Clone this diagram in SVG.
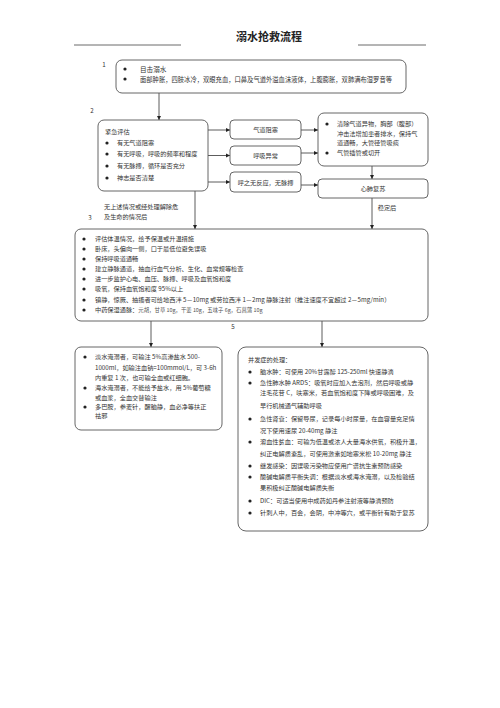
<svg xmlns="http://www.w3.org/2000/svg" width="500" height="708" viewBox="0 0 500 708">
<defs>
<marker id="ah" viewBox="0 0 6 6" refX="6" refY="3" markerWidth="4.5" markerHeight="4.5" orient="auto" markerUnits="userSpaceOnUse">
<path d="M0,0 L6,3 L0,6 Z" fill="#222"/>
</marker>
</defs>
<style>
text{font-family:"Noto Sans CJK SC","Noto Sans",sans-serif;fill:#333;font-size:6.2px}
.box{fill:#fff;stroke:#555;stroke-width:0.9}
.ln{stroke:#333;stroke-width:0.8;fill:none}
.b{fill:#222}
.c{text-anchor:middle}
.title{font-size:11px;font-weight:bold;fill:#222}
.big{font-size:6.6px}
.sm{font-size:5.4px;fill:#555}
</style>
<rect width="500" height="708" fill="#fff"/>
<g id="header">
<text x="269" y="41" class="title c">溺水抢救流程</text>
<line x1="74" y1="45" x2="181" y2="45" stroke="#444" stroke-width="0.8"/>
<line x1="358" y1="45" x2="426" y2="45" stroke="#444" stroke-width="0.8"/>
<text x="104" y="67" class="c">1</text>
<text x="92" y="113" class="c">2</text>
<text x="90" y="220" class="c">3</text>
<text x="233" y="329" class="c">5</text>
</g>
<g id="connectors">
<path class="ln" d="M159,93 V120" marker-end="url(#ah)"/>
<path class="ln" d="M208,130 H230" marker-end="url(#ah)"/>
<path class="ln" d="M208,155.5 H230" marker-end="url(#ah)"/>
<path class="ln" d="M208,182 H230" marker-end="url(#ah)"/>
<path class="ln" d="M301,130 H318" marker-end="url(#ah)"/>
<path class="ln" d="M301,153 H318" marker-end="url(#ah)"/>
<path class="ln" d="M301,185 H318" marker-end="url(#ah)"/>
<path class="ln" d="M372,166 V179" marker-end="url(#ah)"/>
<path class="ln" d="M372,198 V229" marker-end="url(#ah)"/>
<path class="ln" d="M195,191 V229" marker-end="url(#ah)"/>
<path class="ln" d="M151,321 V347" marker-end="url(#ah)"/>
<path class="ln" d="M322,321 V347" marker-end="url(#ah)"/>
<text x="387" y="210" class="c">稳定后</text>
<text x="104" y="209">无上述情况或经处理解除危</text>
<text x="104" y="219">及生命的情况后</text>
</g>
<g id="n1">
<rect class="box" x="116" y="60" width="290" height="33" rx="6"/>
<circle class="b" cx="125" cy="69" r="1.6"/>
<circle class="b" cx="125" cy="79" r="1.6"/>
<text x="140" y="71.5" class="big">目击溺水</text>
<text x="140" y="81.5" class="big" textLength="252" lengthAdjust="spacingAndGlyphs">面部肿胀，四肢冰冷，双眼充血，口鼻及气道外溢血沫液体，上腹膨胀，双肺满布湿罗音等</text>
</g>
<g id="n2">
<rect class="box" x="98" y="120" width="110" height="71" rx="6"/>
<text x="105" y="134">紧急评估</text>
<circle class="b" cx="107" cy="143" r="1.6"/>
<circle class="b" cx="107" cy="154" r="1.6"/>
<circle class="b" cx="107" cy="166" r="1.6"/>
<circle class="b" cx="107" cy="178" r="1.6"/>
<text x="117" y="145">有无气道阻塞</text>
<text x="117" y="156">有无呼吸，呼吸的频率和程度</text>
<text x="117" y="168">有无脉搏，循环是否充分</text>
<text x="117" y="180">神志是否清楚</text>
</g>
<g id="n3">
<rect class="box" x="230" y="120" width="71" height="19" rx="4"/>
<text x="265.5" y="132" class="c">气道阻塞</text>
</g>
<g id="n4">
<rect class="box" x="230" y="146" width="71" height="19" rx="4"/>
<text x="265.5" y="158" class="c">呼吸异常</text>
</g>
<g id="n5">
<rect class="box" x="230" y="172" width="71" height="20" rx="4"/>
<text x="265.5" y="184.5" class="c">呼之无反应，无脉搏</text>
</g>
<g id="n6">
<rect class="box" x="318" y="113" width="110" height="53" rx="6"/>
<circle class="b" cx="327" cy="124" r="1.6"/>
<circle class="b" cx="327" cy="153" r="1.6"/>
<text x="337" y="126">清除气道异物，胸部（腹部）</text>
<text x="337" y="135.5">冲击法增加患者排水，保持气</text>
<text x="337" y="145">道通畅，大管径管吸痰</text>
<text x="337" y="155">气管插管或切开</text>
</g>
<g id="n7">
<rect class="box" x="318" y="179" width="110" height="19" rx="4"/>
<text x="373" y="191" class="c">心肺复苏</text>
</g>
<g id="n8">
<rect class="box" x="75" y="229" width="353" height="92" rx="6"/>
<circle class="b" cx="84" cy="239" r="1.6"/>
<circle class="b" cx="84" cy="249" r="1.6"/>
<circle class="b" cx="84" cy="259" r="1.6"/>
<circle class="b" cx="84" cy="269" r="1.6"/>
<circle class="b" cx="84" cy="279" r="1.6"/>
<circle class="b" cx="84" cy="289" r="1.6"/>
<circle class="b" cx="84" cy="300" r="1.6"/>
<circle class="b" cx="84" cy="310" r="1.6"/>
<text x="95" y="241">评估体温情况，给予保温或升温措施</text>
<text x="95" y="251">卧床，头偏向一侧，口于最低位避免误吸</text>
<text x="95" y="261">保持呼吸道通畅</text>
<text x="95" y="271">建立静脉通道，抽血行血气分析、生化、血常规等检查</text>
<text x="95" y="281">进一步监护心电、血压、脉搏、呼吸及血氧饱和度</text>
<text x="95" y="291">吸氧，保持血氧饱和度 95%以上</text>
<text x="95" y="302">镇静，惊厥、抽搐者可给地西泮 5－10mg 或劳拉西泮 1－2mg 静脉注射（推注速度不宜超过 2－5mg/min）</text>
<text x="95" y="312">中药保湿通脉：<tspan class="sm">元胡，甘草 10g，干姜 10g，五味子 6g，石菖蒲 10g</tspan></text>
</g>
<g id="n9">
<rect class="box" x="75" y="347" width="147" height="83" rx="6"/>
<circle class="b" cx="85" cy="357" r="1.6"/>
<circle class="b" cx="85" cy="388" r="1.6"/>
<circle class="b" cx="85" cy="407" r="1.6"/>
<text x="95" y="359">淡水淹溺者，可输注 5%高渗盐水 500-</text>
<text x="95" y="370">1000ml，如输注血钠=100mmol/L，可 3-6h</text>
<text x="95" y="380">内重复 1 次，也可输全血或红细胞。</text>
<text x="95" y="390">海水淹溺者，不能给予盐水，用 5%葡萄糖</text>
<text x="95" y="400">或血浆，全血交替输注</text>
<text x="95" y="409">多巴胺，参麦针，醒脑静，血必净等扶正</text>
<text x="95" y="418">祛邪</text>
</g>
<g id="n10">
<rect class="box" x="238" y="347" width="190" height="184" rx="8"/>
<text x="248" y="362">并发症的处理：</text>
<circle class="b" cx="250" cy="372" r="1.6"/>
<circle class="b" cx="250" cy="383" r="1.6"/>
<circle class="b" cx="250" cy="419" r="1.6"/>
<circle class="b" cx="250" cy="442" r="1.6"/>
<circle class="b" cx="250" cy="466" r="1.6"/>
<circle class="b" cx="250" cy="477" r="1.6"/>
<circle class="b" cx="250" cy="501" r="1.6"/>
<circle class="b" cx="250" cy="513" r="1.6"/>
<text x="260" y="374">脑水肿：可使用 20%甘露醇 125-250ml 快速静滴</text>
<text x="260" y="385">急性肺水肿 ARDS：吸氧时应加入去泡剂，然后呼吸或静</text>
<text x="260" y="395">注毛花苷 C，呋塞米，若血氧饱和度下降或呼吸困难，及</text>
<text x="260" y="408">早行机械通气辅助呼吸</text>
<text x="260" y="421">急性肾衰：保留导尿，记录每小时尿量，在血容量充足情</text>
<text x="260" y="433">况下使用速尿 20-40mg 静注</text>
<text x="260" y="444">溶血性贫血：可输为低温或浓人大量海水供氧，积极升温，</text>
<text x="260" y="456">纠正电解质紊乱，可使用激素如地塞米松 10-20mg 静注</text>
<text x="260" y="468">继发感染：因误吸污染物应使用广谱抗生素预防感染</text>
<text x="260" y="479">酸碱电解质平衡失调：根据淡水或海水淹溺，以及检验结</text>
<text x="260" y="490">果积极纠正酸碱电解质失衡</text>
<text x="260" y="503">DIC：可适当使用中成药如丹参注射液等静滴预防</text>
<text x="260" y="515">针刺人中，百会，会阴，中冲等穴，或平衡针有助于复苏</text>
</g>
</svg>
